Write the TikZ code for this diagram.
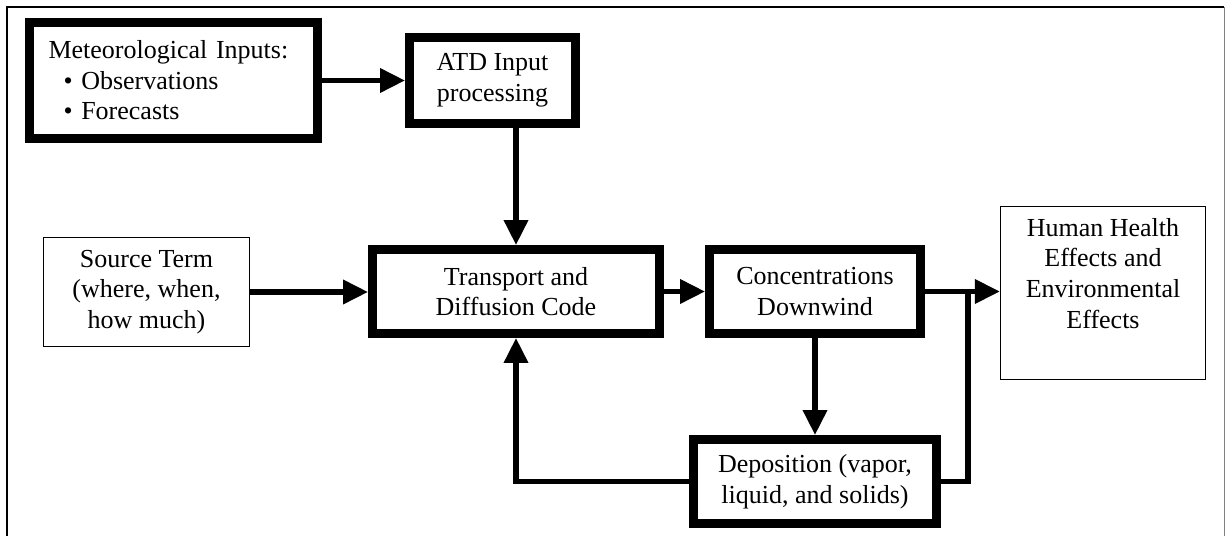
\documentclass[tikz,border=0pt]{standalone}
\usepackage{fontspec}
\setmainfont{Liberation Serif}
\usetikzlibrary{arrows.meta}
\begin{document}
\begin{tikzpicture}[x=0.02cm, y=-0.02cm,
    font=\fontsize{14.8}{17.4}\selectfont,
    heavybox/.style={draw, line width=0.18cm, align=center, inner sep=0pt},
    lightbox/.style={draw, line width=0.027cm, align=center, inner sep=0pt},
    flow/.style={line width=0.105cm, -{Triangle[length=0.5cm, width=0.47cm]}},
    link/.style={line width=0.105cm}]
    \useasboundingbox (0,0) rectangle (1226,536);
    % frame
    \draw[line width=0.04cm] (7,536) -- (7,7) -- (1224,7);
    \draw[gray, line width=0.02cm] (1224,7) -- (1224,536);
    % boxes
    \node[heavybox, minimum width=5.76cm, minimum height=2.32cm, text width=5.0cm, align=left, inner xsep=0.38cm] (met) at (173.5,80.5)
        {Meteorological Inputs:\\ \hspace*{0.3cm}\textbullet\ Observations\\ \hspace*{0.3cm}\textbullet\ Forecasts};
    \node[heavybox, minimum width=3.32cm, minimum height=1.72cm] (atd) at (492.5,80.5) {ATD Input\\ processing};
    \node[lightbox, minimum width=4.12cm, minimum height=2.18cm] (source) at (146.5,292) {Source Term\\ (where, when,\\ how much)};
    \node[heavybox, minimum width=5.74cm, minimum height=1.68cm] (transport) at (516,291.5) {Transport and\\ Diffusion Code};
    \node[heavybox, minimum width=4.22cm, minimum height=1.68cm] (conc) at (815,291.5) {Concentrations\\ Downwind};
    \node[heavybox, minimum width=4.88cm, minimum height=1.68cm] (dep) at (815,481.5) {Deposition (vapor,\\ liquid, and solids)};
    \node[lightbox, minimum width=4.1cm, minimum height=3.46cm] (human) at (1103,293) {Human Health\\ Effects and\\ Environmental\\ Effects\\ \strut};
    \coordinate (join) at (968,292);
    % connectors
    \draw[flow] (met.east) -- (met.east -| atd.west);
    \draw[flow] (transport.north |- atd.south) -- (transport.north);
    \draw[flow] (source.east) -- (source.east -| transport.west);
    \draw[flow] (transport.east) -- (transport.east -| conc.west);
    \draw[flow] (conc.south) -- (dep.north);
    \draw[flow] (conc.east) -- (conc.east -| human.west);
    \draw[link] (dep.east) -| (join);
    \draw[flow] (dep.west) -| (transport.south);
\end{tikzpicture}
\end{document}
